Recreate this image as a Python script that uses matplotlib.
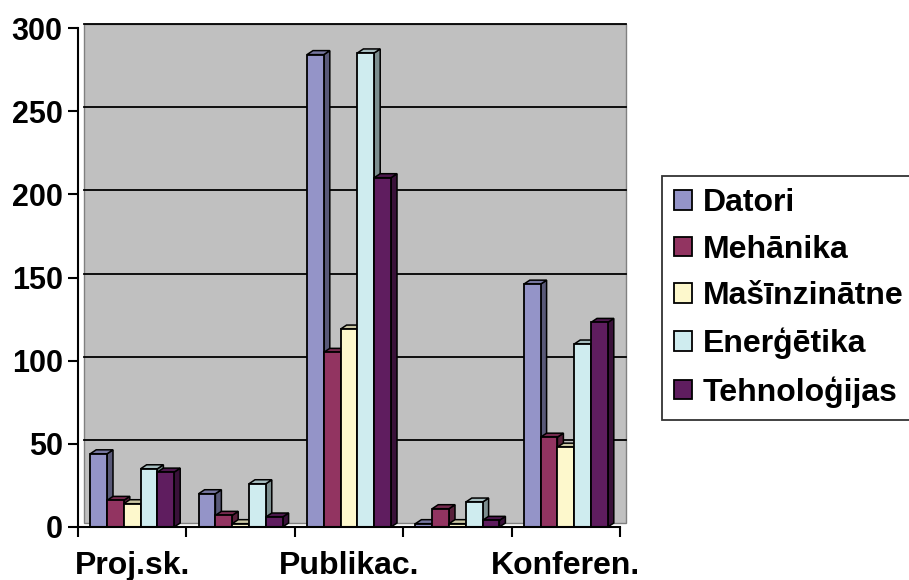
import matplotlib
matplotlib.use("Agg")
import matplotlib.pyplot as plt
import matplotlib.transforms as mtransforms
from matplotlib.patches import Polygon, Rectangle
import matplotlib.colors as mcolors

plt.rcParams['font.family'] = ['Liberation Sans', 'DejaVu Sans']
plt.rcParams['font.weight'] = 'bold'

categories = ["Proj.sk.", "", "Publikac.", "", "Konferen."]
series = ["Datori", "Mehānika", "Mašīnzinātne", "Enerģētika", "Tehnoloģijas"]
datori = [44, 20, 284, 2, 146]
mehanika = [16, 7, 105, 11, 54]
masinzinatne = [14, 2, 119, 2, 48]
energetika = [35, 26, 285, 15, 110]
tehnologijas = [33, 6, 210, 4, 123]
values = [datori, mehanika, masinzinatne, energetika, tehnologijas]
colors = ["#9494c8", "#923461", "#fdf8cc", "#cfecef", "#5f1d5f"]
yticks = [0, 50, 100, 150, 200, 250, 300]


def shade(c, f):
    r, g, b = mcolors.to_rgb(c)
    return (r * f, g * f, b * f)


W, H = 909, 580
fig = plt.figure(figsize=(W / 100, H / 100), dpi=100)
ax = fig.add_axes([78 / W, 1 - 527 / H, (620 - 78) / W, (527 - 28) / H])
ax.set_xlim(-0.5, 4.5)
ax.set_ylim(0, 300)
ax.set_facecolor("none")

# depth offset of the 3d look, in pixels
dpx, dpy = 6, 4
off = mtransforms.ScaledTranslation(dpx / 100, dpy / 100, fig.dpi_scale_trans)

# back wall and gridlines
ax.add_patch(Rectangle((0, 0), 1, 1, transform=ax.transAxes + off,
                       facecolor="#c0c0c0", edgecolor="#808080", lw=1, zorder=0, clip_on=False))
for v in yticks[1:]:
    ax.plot([0, 1], [v, v], color="black", lw=1.3, transform=ax.get_yaxis_transform() + off,
            zorder=1, clip_on=False)

# pixel -> data conversion for 3d faces
bbox = ax.get_window_extent()
dx = dpx * 5 / bbox.width
dy = dpy * 300 / bbox.height

bw = 0.155
for i, (name, vals, col) in enumerate(zip(series, values, colors)):
    xs = [k + (i - 2) * bw for k in range(len(categories))]
    ax.bar(xs, vals, width=bw, color=col, edgecolor="black", lw=1.3, label=name, zorder=3)
    for x, h in zip(xs, vals):
        xl, xr = x - bw / 2, x + bw / 2
        ax.add_patch(Polygon([(xr, 0), (xr + dx, dy), (xr + dx, h + dy), (xr, h)], closed=True,
                             facecolor=shade(col, 0.6), edgecolor="black", lw=1.1, zorder=2.9,
                             clip_on=False))
        ax.add_patch(Polygon([(xl, h), (xl + dx, h + dy), (xr + dx, h + dy), (xr, h)], closed=True,
                             facecolor=shade(col, 0.8), edgecolor="black", lw=1.1, zorder=2.9,
                             clip_on=False))

ax.set_yticks(yticks)
ax.set_xticks([k - 0.5 for k in range(len(categories) + 1)], minor=False)
ax.set_xticklabels([])
ax.set_xticks(range(len(categories)), minor=True)
ax.set_xticklabels(categories, minor=True)
ax.tick_params(axis="x", which="minor", length=0, labelsize=23, pad=17)
ax.tick_params(axis="x", which="major", length=7, width=1.5, direction="out")
ax.tick_params(axis="y", length=7, width=1.5, labelsize=22, pad=4)
for s in ["top", "right"]:
    ax.spines[s].set_visible(False)
for s in ["left", "bottom"]:
    ax.spines[s].set_linewidth(1.5)
    ax.spines[s].set_zorder(4)

leg = fig.legend(loc="upper left", bbox_to_anchor=(662 / W, 1 - 176 / H), fontsize=23,
                 frameon=True, fancybox=False, edgecolor="black", handlelength=0.56,
                 handleheight=0.56, handletextpad=0.34, labelspacing=0.52, borderpad=0.38,
                 borderaxespad=0)
leg.get_frame().set_linewidth(1.3)

fig.savefig("out.png", dpi=100)
